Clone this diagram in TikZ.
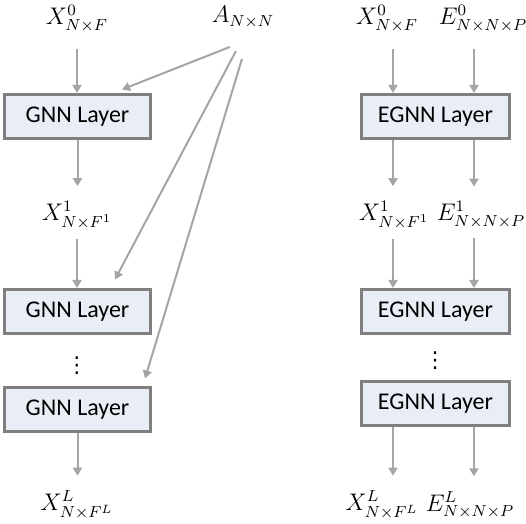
\documentclass[tikz,border=0pt]{standalone}
\usepackage{fontspec}
\setsansfont{Carlito}
\newfontfamily\dotsfont{DejaVu Sans}
\usetikzlibrary{positioning,arrows.meta}
\definecolor{boxfill}{HTML}{E9EEF6}
\definecolor{boxline}{HTML}{7F7F7F}
\definecolor{flowgray}{HTML}{A5A5A5}
\tikzstyle{layer}=[rectangle, draw=boxline, line width=1.5pt, fill=boxfill, minimum height=22pt, text centered, font=\sffamily\fontsize{12}{14}\selectfont]
\tikzstyle{gnn}=[layer, minimum width=73pt]
\tikzstyle{egnn}=[layer, minimum width=74pt]
\tikzstyle{tensor}=[font=\fontsize{11.5}{14}\selectfont]
\tikzstyle{more}=[font=\dotsfont\fontsize{11}{12}\selectfont, inner sep=0pt]
\tikzstyle{flow}=[draw=flowgray, line width=1pt, -{Triangle[width=4.5pt,length=4pt]}]

\begin{document}
\begin{tikzpicture}[x=0.5pt, y=-0.5pt]
    \useasboundingbox (0,0) rectangle (526,524);
    % plain GNN stack
    \node(x0)[tensor] at (77,19) {$X^{0}_{N\times F}$};
    \node(adj)[tensor] at (243,17) {$A_{N\times N}$};
    \node(gnn1)[gnn] at (77.5,116.5) {GNN Layer};
    \node(x1)[tensor] at (77,215) {$X^{1}_{N\times F^{1}}$};
    \node(gnn2)[gnn, below=74pt of gnn1] {GNN Layer};
    \node(vd1)[more] at (77,366) {⋮};
    \node(gnn3)[gnn, below=25.5pt of gnn2] {GNN Layer};
    \node(xL)[tensor] at (77,505) {$X^{L}_{N\times F^{L}}$};

    \draw[flow, shorten <=5pt] (x0.south) -- (x0.south |- gnn1.north);
    \draw[flow, shorten >=4pt] (gnn1.south) -- (gnn1.south |- x1.north);
    \draw[flow, shorten <=1.5pt] (x1.south) -- (x1.south |- gnn2.north);
    \draw[flow, shorten >=4pt] (gnn3.south) -- (gnn3.south |- xL.north);

    % adjacency fed to every layer
    \draw[flow] ([xshift=-6.5pt,yshift=-6pt]adj.south) -- ([xshift=22.25pt,yshift=1.75pt]gnn1.north);
    \draw[flow] ([xshift=-3.5pt,yshift=-8pt]adj.south) -- ([xshift=18.75pt,yshift=4.25pt]gnn2.north);
    \draw[flow] ([xshift=-0.5pt,yshift=-12pt]adj.south) -- ([xshift=33.75pt,yshift=3.75pt]gnn3.north);

    % EGNN stack
    \coordinate(xcol) at (393,0);
    \coordinate(ecol) at (474,0);
    \node(xr0)[tensor] at (387,19) {$X^{0}_{N\times F}$};
    \node(e0)[tensor] at (483,19) {$E^{0}_{N\times N\times P}$};
    \node(egnn1)[egnn] at (435.5,116.5) {EGNN Layer};
    \node(xr1)[tensor] at (394,215) {$X^{1}_{N\times F^{1}}$};
    \node(e1)[tensor] at (481,215) {$E^{1}_{N\times N\times P}$};
    \node(egnn2)[egnn, below=74pt of egnn1] {EGNN Layer};
    \node(vd2)[more] at (435,361) {⋮};
    \node(egnn3)[egnn, below=22.5pt of egnn2] {EGNN Layer};
    \node(xrL)[tensor] at (382,505) {$X^{L}_{N\times F^{L}}$};
    \node(eL)[tensor] at (470,505) {$E^{L}_{N\times N\times P}$};

    \draw[flow, shorten <=5pt] (xr0.south -| xcol) -- (egnn1.north -| xcol);
    \draw[flow, shorten <=5pt] (e0.south -| ecol) -- (egnn1.north -| ecol);
    \draw[flow, shorten >=4pt] (egnn1.south -| xcol) -- (xr1.north -| xcol);
    \draw[flow, shorten >=4pt] (egnn1.south -| ecol) -- (e1.north -| ecol);
    \draw[flow, shorten <=1.5pt] (xr1.south -| xcol) -- (egnn2.north -| xcol);
    \draw[flow, shorten <=1.5pt] (e1.south -| ecol) -- (egnn2.north -| ecol);
    \draw[flow, shorten >=4pt] (egnn3.south -| xcol) -- (xrL.north -| xcol);
    \draw[flow, shorten >=4pt] (egnn3.south -| ecol) -- (eL.north -| ecol);
\end{tikzpicture}
\end{document}
